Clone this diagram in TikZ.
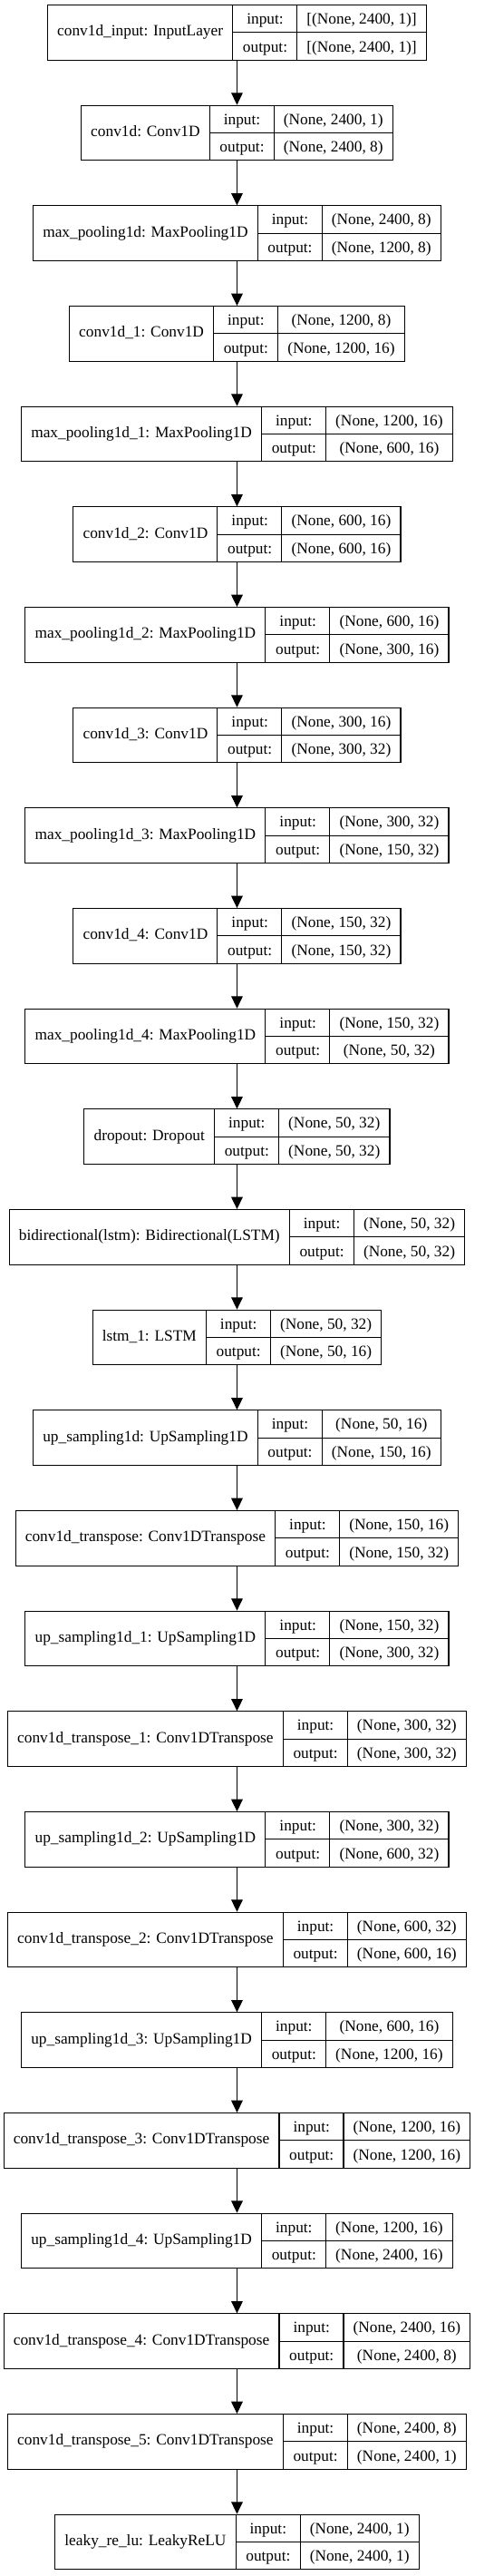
\documentclass[tikz,border=0pt]{standalone}
\usepackage{fontspec}
\setmainfont{Liberation Serif}
\usetikzlibrary{positioning,arrows.meta}

\setlength{\tabcolsep}{8pt}
\setlength{\arrayrulewidth}{0.8pt}

\newcommand{\layerrec}[3]{%
  \begin{tabular}{c|@{}c@{}}%
    #1 & \begin{tabular}{c|c}%
      input: & #2 \\ \hline
      output: & #3%
    \end{tabular}%
  \end{tabular}}

\begin{document}
\begin{tikzpicture}[->,>={Triangle[length=10pt,width=9.5pt]},shorten >=0pt,node distance=36.8pt,
line width=0.8pt,layer/.style={rectangle,draw,inner sep=0pt,font={\fontsize{13}{22.3}\selectfont}}]

\useasboundingbox (-196.1pt,3.75pt) rectangle (212.65pt,-2126.25pt);

\node[layer,anchor=north] (inp) at (0,0) {\layerrec{conv1d\_input: InputLayer}{[(None, 2400, 1)]}{[(None, 2400, 1)]}};
\node[layer] (c0) [below=of inp] {\layerrec{conv1d: Conv1D}{(None, 2400, 1)}{(None, 2400, 8)}};
\node[layer] (p0) [below=of c0] {\layerrec{max\_pooling1d: MaxPooling1D}{(None, 2400, 8)}{(None, 1200, 8)}};
\node[layer] (c1) [below=of p0] {\layerrec{conv1d\_1: Conv1D}{(None, 1200, 8)}{(None, 1200, 16)}};
\node[layer] (p1) [below=of c1] {\layerrec{max\_pooling1d\_1: MaxPooling1D}{(None, 1200, 16)}{(None, 600, 16)}};
\node[layer] (c2) [below=of p1] {\layerrec{conv1d\_2: Conv1D}{(None, 600, 16)}{(None, 600, 16)}};
\node[layer] (p2) [below=of c2] {\layerrec{max\_pooling1d\_2: MaxPooling1D}{(None, 600, 16)}{(None, 300, 16)}};
\node[layer] (c3) [below=of p2] {\layerrec{conv1d\_3: Conv1D}{(None, 300, 16)}{(None, 300, 32)}};
\node[layer] (p3) [below=of c3] {\layerrec{max\_pooling1d\_3: MaxPooling1D}{(None, 300, 32)}{(None, 150, 32)}};
\node[layer] (c4) [below=of p3] {\layerrec{conv1d\_4: Conv1D}{(None, 150, 32)}{(None, 150, 32)}};
\node[layer] (p4) [below=of c4] {\layerrec{max\_pooling1d\_4: MaxPooling1D}{(None, 150, 32)}{(None, 50, 32)}};
\node[layer] (drop) [below=of p4] {\layerrec{dropout: Dropout}{(None, 50, 32)}{(None, 50, 32)}};
\node[layer] (bilstm) [below=of drop] {\layerrec{bidirectional(lstm): Bidirectional(LSTM)}{(None, 50, 32)}{(None, 50, 32)}};
\node[layer] (lstm) [below=of bilstm] {\layerrec{lstm\_1: LSTM}{(None, 50, 32)}{(None, 50, 16)}};
\node[layer] (up0) [below=of lstm] {\layerrec{up\_sampling1d: UpSampling1D}{(None, 50, 16)}{(None, 150, 16)}};
\node[layer] (t0) [below=of up0] {\layerrec{conv1d\_transpose: Conv1DTranspose}{(None, 150, 16)}{(None, 150, 32)}};
\node[layer] (up1) [below=of t0] {\layerrec{up\_sampling1d\_1: UpSampling1D}{(None, 150, 32)}{(None, 300, 32)}};
\node[layer] (t1) [below=of up1] {\layerrec{conv1d\_transpose\_1: Conv1DTranspose}{(None, 300, 32)}{(None, 300, 32)}};
\node[layer] (up2) [below=of t1] {\layerrec{up\_sampling1d\_2: UpSampling1D}{(None, 300, 32)}{(None, 600, 32)}};
\node[layer] (t2) [below=of up2] {\layerrec{conv1d\_transpose\_2: Conv1DTranspose}{(None, 600, 32)}{(None, 600, 16)}};
\node[layer] (up3) [below=of t2] {\layerrec{up\_sampling1d\_3: UpSampling1D}{(None, 600, 16)}{(None, 1200, 16)}};
\node[layer] (t3) [below=of up3] {\layerrec{conv1d\_transpose\_3: Conv1DTranspose}{(None, 1200, 16)}{(None, 1200, 16)}};
\node[layer] (up4) [below=of t3] {\layerrec{up\_sampling1d\_4: UpSampling1D}{(None, 1200, 16)}{(None, 2400, 16)}};
\node[layer] (t4) [below=of up4] {\layerrec{conv1d\_transpose\_4: Conv1DTranspose}{(None, 2400, 16)}{(None, 2400, 8)}};
\node[layer] (t5) [below=of t4] {\layerrec{conv1d\_transpose\_5: Conv1DTranspose}{(None, 2400, 8)}{(None, 2400, 1)}};
\node[layer] (relu) [below=of t5] {\layerrec{leaky\_re\_lu: LeakyReLU}{(None, 2400, 1)}{(None, 2400, 1)}};

\path
(inp) edge (c0)
(c0) edge (p0)
(p0) edge (c1)
(c1) edge (p1)
(p1) edge (c2)
(c2) edge (p2)
(p2) edge (c3)
(c3) edge (p3)
(p3) edge (c4)
(c4) edge (p4)
(p4) edge (drop)
(drop) edge (bilstm)
(bilstm) edge (lstm)
(lstm) edge (up0)
(up0) edge (t0)
(t0) edge (up1)
(up1) edge (t1)
(t1) edge (up2)
(up2) edge (t2)
(t2) edge (up3)
(up3) edge (t3)
(t3) edge (up4)
(up4) edge (t4)
(t4) edge (t5)
(t5) edge (relu);

\end{tikzpicture}
\end{document}
